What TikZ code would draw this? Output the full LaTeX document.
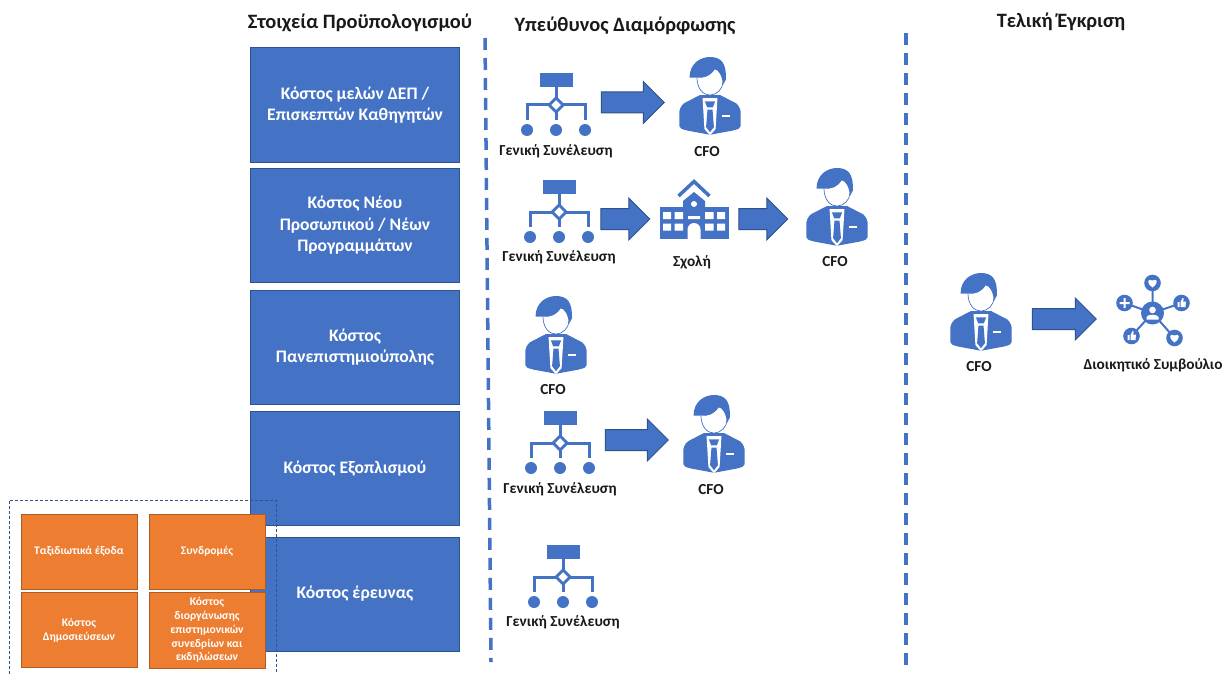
\documentclass[tikz,border=0pt]{standalone}
\usepackage{fontspec}
\setmainfont{Carlito}
\usetikzlibrary{shapes.arrows}
\definecolor{boxblue}{HTML}{4472C4}
\definecolor{boxedge}{HTML}{2F528F}
\definecolor{boxorange}{HTML}{ED7D31}
\definecolor{orangeedge}{HTML}{AE5A21}
\tikzset{
  costbox/.style={rectangle,draw=boxedge,line width=1pt,fill=boxblue,text=white,align=center,
    minimum width=209.5pt,minimum height=114pt,font=\fontsize{17.6}{21.5}\selectfont\bfseries},
  smallbox/.style={rectangle,draw=orangeedge,line width=1pt,fill=boxorange,text=white,align=center,
    minimum width=116pt,minimum height=75pt,inner sep=0pt,font=\fontsize{11.6}{13.8}\selectfont\bfseries},
  heading/.style={font=\fontsize{20.4}{24}\selectfont\bfseries,text=black!90},
  iconlabel/.style={font=\fontsize{15.3}{18}\selectfont\bfseries,text=black!90},
  blockarrow/.style={single arrow,draw=boxedge,line width=1pt,fill=boxblue,inner xsep=0pt,inner ysep=10pt,
    minimum width=0pt,single arrow head extend=10.5pt,single arrow head indent=0pt},
  divider/.style={draw=boxblue,line width=3.5pt,dash pattern=on 12pt off 8pt},
  orgicon/.pic={
    \fill[boxblue] (-16.5,0) rectangle (16.5,14);
    \draw[boxblue,line width=3pt] (0,14) -- (0,47);
    \draw[boxblue,line width=3pt] (-29,47) -- (-29,32) -- (29,32) -- (29,47);
    \fill[white] (0,25) -- (7,32) -- (0,39) -- (-7,32) -- cycle;
    \fill[boxblue,even odd rule] (0,23) -- (9,32) -- (0,41) -- (-9,32) -- cycle
      (0,27) -- (5,32) -- (0,37) -- (-5,32) -- cycle;
    \fill[boxblue] (-29,57) circle (6) (0,57) circle (6) (29,57) circle (6);
  },
  cfoicon/.pic={
    \begin{scope}[xscale=.93,yscale=1.03]
    \fill[boxblue] (-33,53) .. controls (-32,48) and (-29,45) .. (-26,44) -- (-11,37) -- (11,37) -- (26,44)
      .. controls (29,45) and (32,48) .. (33,53) -- (33,67) .. controls (33,69) and (31,70) .. (24,71.5)
      -- (0,75.5) -- (-24,71.5) .. controls (-31,70) and (-33,69) .. (-33,67) -- cycle;
    \fill[white] (-14,20) .. controls (-14,31) and (-7,37) .. (0,37) .. controls (7,37) and (14,31) .. (14,22) -- (8,8) -- (-8,8) -- cycle;
    \draw[boxblue,line width=.7pt] (-14,20) .. controls (-14,31) and (-7,37) .. (0,37) .. controls (7,37) and (14,31) .. (14,24);
    \fill[white] (-8,40) -- (8,40) -- (6,70) -- (0,76) -- (-6,70) -- cycle;
    \fill[boxblue] (-5.5,43) -- (5.5,43) -- (3,49) -- (-3,49) -- cycle;
    \fill[boxblue] (-2.7,51) -- (2.7,51) -- (4.2,68) -- (0,73) -- (-4.2,68) -- cycle;
    \fill[white] (12.5,56.5) rectangle (21,58.5);
    \fill[boxblue] (-22,20) .. controls (-22,6) and (-10,0) .. (0,0) .. controls (12,0) and (18,6) .. (17,22)
      -- (14,27) .. controls (13,18) and (9,12) .. (5,12) .. controls (0,19) and (-8,21) .. (-14,20) -- cycle;
    \end{scope}
  },
  schoolicon/.pic={
    \draw[boxblue,line width=3.5pt] (-15.5,16) -- (0,1.5) -- (15.5,16);
    \fill[boxblue] (-34.5,27) rectangle (34.5,59);
    \fill[boxblue] (-11,27) -- (-11,21) -- (0,12) -- (11,21) -- (11,27) -- cycle;
    \fill[white] (0,24) circle (3);
    \fill[white] (-31,32) rectangle (-23,39) (-19.5,32) rectangle (-11,39)
      (11,32) rectangle (19.5,39) (23,32) rectangle (31,39)
      (-31,43.5) rectangle (-23,50.5) (-19.5,43.5) rectangle (-11,50.5)
      (11,43.5) rectangle (19.5,50.5) (23,43.5) rectangle (31,50.5)
      (-6,36) rectangle (6,39);
    \fill[white] (-6.5,59) -- (-6.5,49.5) arc[start angle=180,end angle=360,radius=6.5] -- (6.5,59) -- cycle;
  },
  boardicon/.pic={
    \draw[boxblue,line width=2pt] (0,0) -- (0,-30) (0,0) -- (-28,-10) (0,0) -- (29,-10) (0,0) -- (-21,23) (0,0) -- (22,25);
    \fill[boxblue] (0,0) circle (11.5) (0,-30) circle (8.3) (-28,-10) circle (8.3) (29,-10) circle (8.3)
      (-21,23) circle (8.3) (22,25) circle (8.3);
    \fill[white] (0,-3) circle (3.3);
    \fill[white] (-6,6.5) -- (-6,4) .. controls (-5,1) and (5,1) .. (6,4) -- (6,6.5) -- cycle;
    % marks on the small circles
    \fill[white] (0,-25.5) .. controls (-7,-30.5) and (-4.5,-35) .. (0,-32.5) .. controls (4.5,-35) and (7,-30.5) .. (0,-25.5);
    \fill[white] (22,29.5) .. controls (15,24.5) and (17.5,20) .. (22,22.5) .. controls (26.5,20) and (29,24.5) .. (22,29.5);
    \fill[white] (-33,-11) rectangle (-23,-9) (-29,-15) rectangle (-27,-5);
    \fill[white] (25,-11) rectangle (27,-6) (28,-11) -- (30,-15) -- (31.2,-14.5) -- (30.6,-11.5) -- (33.5,-11.5) -- (33,-6) -- (28,-6) -- cycle;
    \fill[white] (-25,22) rectangle (-23,27) (-22,22) -- (-20,18) -- (-18.8,18.5) -- (-19.4,21.5) -- (-16.5,21.5) -- (-17,27) -- (-22,27) -- cycle;
  }
}
\begin{document}
\begin{tikzpicture}[x=1pt,y=-1pt]
\useasboundingbox (0,0) rectangle (1228,674);
\node [heading] (budget) at (360,22.5) {Στοιχεία Προϋπολογισμού};
\node [heading] (owner) at (625,25.5) {Υπεύθυνος Διαμόρφωσης};
\node [heading] (approval) at (1061,21.5) {Τελική Έγκριση};
\coordinate (sepat) at (485,38);
\coordinate (sepab) at (491,662);
\coordinate (sepbt) at (906,33);
\coordinate (sepbb) at (906,667);
\draw [divider] (sepat) -- (sepab);
\draw [divider] (sepbt) -- (sepbb);
\node [costbox] (staff) at (355,105) {Κόστος μελών ΔΕΠ /\\Επισκεπτών Καθηγητών};
\node [costbox] (newstaff) at (355,225.5) {Κόστος Νέου\\Προσωπικού / Νέων\\Προγραμμάτων};
\node [costbox] (campus) at (355,347) {Κόστος\\Πανεπιστημιούπολης};
\node [costbox] (equip) at (355,468.5) {Κόστος Εξοπλισμού};
\node [costbox] (research) at (355,594) {Κόστος έρευνας};
\node [smallbox] (travel) at (79,551.5) {Ταξιδιωτικά έξοδα};
\node [smallbox] (subs) at (207,551.5) {Συνδρομές};
\node [smallbox] (papers) at (79,630) {Κόστος\\Δημοσιεύσεων};
\node [smallbox,minimum height=76pt] (confs) at (207,630) {Κόστος\\διοργάνωσης\\επιστημονικών\\συνεδρίων και\\εκδηλώσεων};
\draw [boxedge,line width=.8pt,densely dashed] (9,674) -- (9,500) -- (276,500) -- (276,674);
% row 1
\pic (orga) at (556,73) {orgicon};
\node [iconlabel] (orgalabel) at (556,151.7) {Γενική Συνέλευση};
\node [blockarrow,minimum height=63pt] (arra) at (627.5,102.5) {};
\pic (cfoa) at (710,57) {cfoicon};
\node [iconlabel] (cfoalabel) at (707,151.7) {CFO};
% row 2
\pic (orgb) at (559,180) {orgicon};
\node [iconlabel] (orgblabel) at (559,257.7) {Γενική Συνέλευση};
\node [blockarrow,minimum height=49pt] (arrb) at (620,219) {};
\pic (school) at (694,180) {schoolicon};
\node [iconlabel] (schoollabel) at (692,262.7) {Σχολή};
\node [blockarrow,minimum height=49pt] (arrc) at (758,219) {};
\pic (cfob) at (837,168) {cfoicon};
\node [iconlabel] (cfoblabel) at (835,261.7) {CFO};
% row 3
\pic (cfoc) at (556,296) {cfoicon};
\node [iconlabel] (cfoclabel) at (553,389.7) {CFO};
% row 4
\pic (orgc) at (560,411) {orgicon};
\node [iconlabel] (orgclabel) at (560,489.7) {Γενική Συνέλευση};
\node [blockarrow,minimum height=63pt] (arrd) at (631.5,440) {};
\pic (cfod) at (714,395) {cfoicon};
\node [iconlabel] (cfodlabel) at (711,489.7) {CFO};
% row 5
\pic (orgd) at (563,545) {orgicon};
\node [iconlabel] (orgdlabel) at (563,622.7) {Γενική Συνέλευση};
% final approval
\pic (cfoe) at (981,273) {cfoicon};
\node [iconlabel] (cfoelabel) at (979,366.7) {CFO};
\node [blockarrow,minimum height=64pt] (arre) at (1059,319) {};
\pic (board) at (1152.5,313) {boardicon};
\node [iconlabel] (boardlabel) at (1153,365.7) {Διοικητικό Συμβούλιο};
\end{tikzpicture}
\end{document}
